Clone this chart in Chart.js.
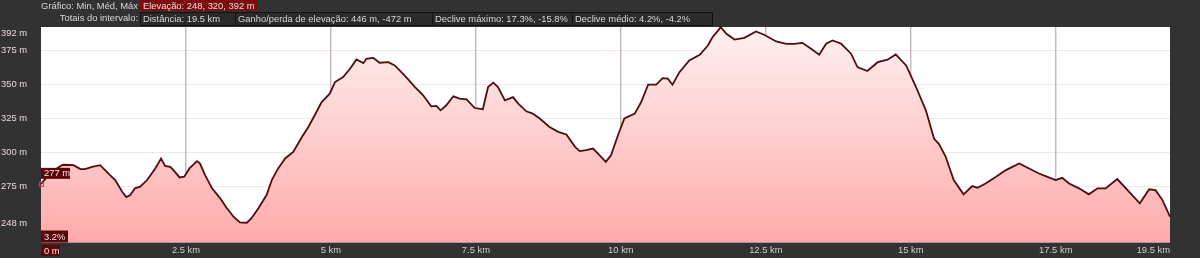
<!DOCTYPE html>
<html>
<head>
<meta charset="utf-8">
<script src="https://cdn.jsdelivr.net/npm/chart.js@4.4.1/dist/chart.umd.min.js"></script>
<style>
  html, body { margin: 0; padding: 0; background: #323232; }
  #wrap { width: 1200px; height: 258px; }
</style>
</head>
<body>
<div id="wrap"><canvas id="elevChart" width="1200" height="258"></canvas></div>
<script>
// profile: distance (km) and elevation (m)
const distKm = [0.00, 0.18, 0.38, 0.56, 0.68, 0.76, 0.88, 1.02, 1.19, 1.28, 1.40, 1.47, 1.54, 1.62, 1.71, 1.83, 1.97, 2.07, 2.14, 2.23, 2.31, 2.39, 2.47, 2.56, 2.69, 2.74, 2.83, 2.95, 3.09, 3.20, 3.32, 3.43, 3.55, 3.63, 3.75, 3.89, 3.98, 4.09, 4.21, 4.35, 4.50, 4.61, 4.72, 4.84, 4.98, 5.07, 5.21, 5.33, 5.44, 5.56, 5.61, 5.73, 5.84, 5.99, 6.10, 6.27, 6.45, 6.59, 6.73, 6.82, 6.89, 6.99, 7.11, 7.22, 7.34, 7.48, 7.62, 7.71, 7.80, 7.88, 8.00, 8.14, 8.23, 8.37, 8.48, 8.60, 8.77, 8.92, 9.06, 9.21, 9.29, 9.40, 9.52, 9.63, 9.74, 9.83, 9.95, 10.06, 10.24, 10.35, 10.47, 10.61, 10.72, 10.81, 10.89, 11.01, 11.18, 11.36, 11.50, 11.58, 11.69, 11.72, 11.82, 11.96, 12.13, 12.33, 12.47, 12.68, 12.85, 12.99, 13.13, 13.28, 13.42, 13.54, 13.65, 13.80, 13.97, 14.08, 14.25, 14.43, 14.60, 14.74, 14.92, 15.09, 15.26, 15.40, 15.49, 15.60, 15.74, 15.91, 16.06, 16.15, 16.29, 16.47, 16.64, 16.87, 17.04, 17.21, 17.38, 17.50, 17.61, 17.73, 17.90, 18.07, 18.22, 18.36, 18.56, 18.79, 18.95, 19.11, 19.22, 19.34, 19.47];
const elevM = [277, 286, 291, 290.7, 287.8, 287.8, 289.5, 290.7, 283.4, 279.8, 271.2, 267.3, 268.8, 273.7, 274.9, 279.8, 288.3, 295.6, 290.2, 289.5, 285.8, 281.7, 282.2, 288.3, 293.6, 292.0, 283.4, 273.7, 266.4, 259.5, 252.9, 248.8, 248.5, 251.8, 259.1, 268.8, 279.8, 288.3, 295.6, 300.4, 311.4, 318.7, 327.3, 337.0, 343.1, 351.6, 355.3, 361.4, 368.2, 365.5, 368.7, 369.4, 365.8, 366.2, 363.8, 356.5, 348.0, 341.9, 333.8, 334.1, 330.9, 334.6, 341.2, 339.5, 339.0, 332.6, 331.7, 348.0, 351.2, 348.0, 338.2, 340.6, 335.8, 330.2, 328.5, 324.9, 318.7, 315.1, 313.2, 304.1, 301.0, 301.7, 302.9, 298.0, 293.1, 298.0, 312.6, 324.9, 328.5, 337.0, 349.7, 349.7, 354.5, 354.1, 349.7, 358.9, 367.5, 371.6, 378.4, 384.5, 390.1, 392, 387.0, 382.8, 384.1, 388.7, 386.3, 381.4, 379.7, 379.7, 380.4, 376.0, 371.6, 379.7, 382.1, 379.7, 372.4, 362.6, 359.7, 366.2, 368.0, 371.9, 363.8, 348.0, 330.9, 310.2, 306, 297, 279.8, 269.3, 275.4, 274.1, 277.3, 282.2, 287.1, 292.0, 288.3, 284.6, 281.7, 279.8, 281.4, 277.3, 273.7, 269.3, 273.7, 273.7, 280.5, 270.0, 262.7, 273.0, 272.4, 265.1, 253];

const yTicks = [248, 275, 300, 325, 350, 375, 392];
const xTicks = [0, 2.5, 5, 7.5, 10, 12.5, 15, 17.5];
const yMin = 234;
const yMax = 392;

const summaryLabel = 'Gráfico: Min, Méd, Máx';
const summaryValue = 'Elevação: 248, 320, 392 m';
const totalsLabel = 'Totais do intervalo:';
const totalsValues = ['Distância: 19.5 km', 'Ganho/perda de elevação: 446 m, -472 m', 'Declive máximo: 17.3%, -15.8%', 'Declive médio: 4.2%, -4.2%'];
const cursorGrade = '3.2%';

const FONT = '9.4px "Liberation Sans", Arial, sans-serif';

function boxText(ctx, text, x, y, w, h, bg, fg, border) {
    ctx.fillStyle = bg;
    ctx.fillRect(x, y, w, h);
    if (border) {
        ctx.strokeStyle = border;
        ctx.lineWidth = 1;
        ctx.strokeRect(x + 0.5, y + 0.5, w - 1, h - 1);
    }
    ctx.fillStyle = fg;
    ctx.fillText(text, x + 3, y + h / 2 + 0.5);
}

const chromePlugin = {
    id: 'chrome',
    beforeDraw(chart) {
        const { ctx, chartArea: a } = chart;
        ctx.save();
        ctx.fillStyle = '#ffffff';
        ctx.fillRect(a.left, a.top, a.right - a.left, a.bottom - a.top);
        ctx.restore();
    },
    afterDraw(chart) {
        const { ctx, chartArea: a } = chart;
        const xs = chart.scales.x, ys = chart.scales.y;
        ctx.save();
        ctx.font = FONT;
        ctx.textBaseline = 'middle';

        // header line 1
        ctx.fillStyle = '#d8d8d8';
        ctx.textAlign = 'right';
        ctx.fillText(summaryLabel, 138, 6);
        ctx.textAlign = 'left';
        boxText(ctx, summaryValue, 140, 0, 117, 11, '#7c0d0d', '#f0d8d8');

        // header line 2
        ctx.fillStyle = '#d8d8d8';
        ctx.textAlign = 'right';
        ctx.fillText(totalsLabel, 138, 18.5);
        ctx.textAlign = 'left';
        const edges = [140, 235, 432, 572, 712];
        totalsValues.forEach((t, i) => {
            boxText(ctx, t, edges[i], 12, edges[i + 1] - edges[i] + 1, 14, '#2a2a2a', '#d8d8d8', '#111111');
        });

        // y labels
        ctx.fillStyle = '#ead8d8';
        ctx.textAlign = 'left';
        yTicks.forEach(v => {
            let y = ys.getPixelForValue(v);
            y = Math.max(y, a.top + 6);
            ctx.fillText(v + ' m', 1, y);
        });

        // x labels
        ctx.fillStyle = '#cfcfcf';
        ctx.textAlign = 'center';
        xTicks.forEach(v => {
            if (v === 0) return;
            ctx.fillText(v + ' km', xs.getPixelForValue(v), 250.5);
        });
        ctx.textAlign = 'right';
        ctx.fillText(xs.max.toFixed(1) + ' km', a.right, 250.5);

        // cursor at start of track
        ctx.textAlign = 'left';
        const cx = xs.getPixelForValue(distKm[0]);
        const cy = ys.getPixelForValue(elevM[0]);
        ctx.strokeStyle = '#d03a3a';
        ctx.lineWidth = 1;
        ctx.strokeRect(cx - 1.5, cy - 1.5, 4, 4);
        boxText(ctx, elevM[0] + ' m', cx, cy - 16, 29, 11, '#5c0707', '#f3e2e2');
        boxText(ctx, cursorGrade, cx, a.bottom - 12, 27, 12, '#5c0707', '#f3e2e2');
        boxText(ctx, '0 m', cx, 245, 19, 11, '#5c0707', '#f3e2e2');
        ctx.restore();
    }
};

const points = distKm.map((d, i) => ({ x: d, y: elevM[i] }));

const elevCtx = document.getElementById('elevChart').getContext('2d');
const elevChart = new Chart(elevCtx, {
    type: 'line',
    data: {
        datasets: [{
            label: 'Elevação',
            data: points,
            borderColor: '#4e0c10',
            borderWidth: 1.8,
            pointRadius: 0,
            tension: 0,
            clip: 3,
            fill: 'start',
            backgroundColor: c => {
                const a = c.chart.chartArea;
                if (!a) return '#ffc0c0';
                const g = c.chart.ctx.createLinearGradient(0, a.top, 0, a.bottom);
                g.addColorStop(0, '#fff1f1');
                g.addColorStop(1, '#ffaaaa');
                return g;
            }
        }]
    },
    options: {
        responsive: false,
        animation: false,
        devicePixelRatio: 1,
        layout: { padding: { top: 27, right: 30, left: 0, bottom: 0 } },
        plugins: {
            legend: { display: false },
            tooltip: { enabled: false }
        },
        scales: {
            x: {
                type: 'linear',
                min: 0,
                max: distKm[distKm.length - 1],
                afterBuildTicks: s => { s.ticks = xTicks.map(v => ({ value: v })); },
                afterFit: s => { s.height = 15.5; },
                ticks: { display: false },
                border: { display: false },
                grid: {
                    drawTicks: false,
                    lineWidth: 1.4,
                    color: c => (c.tick && c.tick.value === 0) ? 'rgba(0,0,0,0)' : 'rgba(150,140,140,0.6)'
                }
            },
            y: {
                min: yMin,
                max: yMax,
                afterBuildTicks: s => { s.ticks = yTicks.map(v => ({ value: v })); },
                afterFit: s => { s.width = 41; },
                ticks: { display: false },
                border: { display: false },
                grid: {
                    drawTicks: false,
                    color: c => (c.tick && c.tick.value === yMax) ? 'rgba(0,0,0,0)' : 'rgba(190,130,130,0.2)'
                }
            }
        }
    },
    plugins: [chromePlugin]
});
</script>
</body>
</html>
